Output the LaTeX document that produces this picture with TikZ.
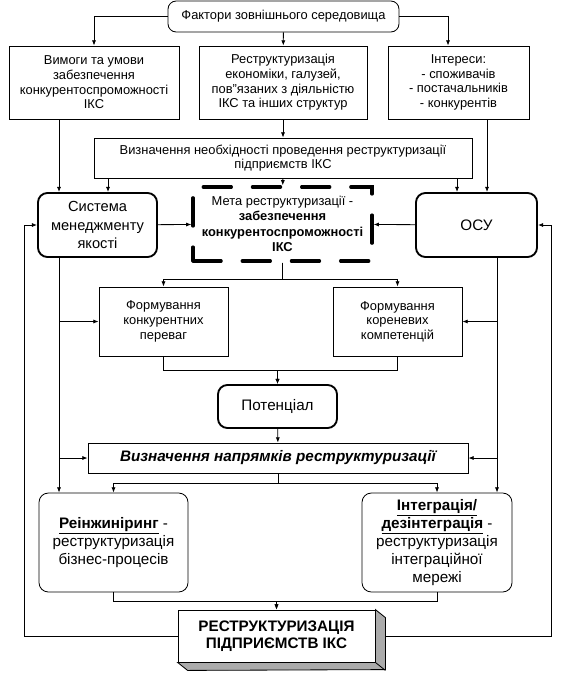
\documentclass[tikz,border=0pt]{standalone}
\usepackage{fontspec}
\setmainfont{Liberation Sans}
\usetikzlibrary{arrows.meta}
\definecolor{shGrey}{HTML}{ABABAB}

\begin{document}
\begin{tikzpicture}[x=0.03cm,y=-0.03cm,line width=0.7pt,
  font=\fontsize{11}{12.5}\selectfont,
  sz/.style 2 args={minimum width=#1*0.03cm,minimum height=#2*0.03cm},
  s/.style={draw,fill=white,align=center,inner sep=1pt},
  r/.style={s,rounded corners=8pt},
  rb/.style={s,rounded corners=8pt,line width=1.6pt,font=\fontsize{13}{15.5}\selectfont},
  goalbox/.style={s,line width=2.8pt,dash pattern=on 24pt off 18pt,line cap=round,
                  font=\fontsize{11}{13}\selectfont},
  a/.style={-{Latex[length=4.5pt,width=3.5pt]}}]
\useasboundingbox (0,0) rectangle (576,673);
\node[r,rounded corners=7pt,sz={231}{31}] (env) at (283.5,16.5) {Фактори зовнішнього середовища};
\node[s,sz={170}{73}] (req) at (94,82.5) {Вимоги та умови\\забезпечення\\конкурентоспроможності\\ІКС};
\node[s,sz={168}{73}] (econ) at (283,82.5) {Реструктуризація\\економіки, галузей,\\пов"язаних з діяльністю\\ІКС та інших структур};
\node[s,sz={141}{73}] (inter) at (458.5,82.5) {Інтереси:\\- споживачів\\- постачальників\\- конкурентів};
\node[s,sz={378}{40}] (need) at (283,158) {Визначення необхідності проведення реструктуризації\\підприємств ІКС};
\node[rb,sz={119}{64},font=\fontsize{12.5}{15.5}\selectfont] (qms) at (97.5,225) {Система\\менеджменту\\якості};
\node[goalbox,sz={179}{74}] (goal) at (282.5,224) {Мета реструктуризації -\\\textbf{забезпечення}\\\textbf{конкурентоспроможності}\\\textbf{ІКС}};
\node[rb,sz={121}{64}] (osu) at (476.5,225) {ОСУ};
\node[s,sz={129}{69}] (adv) at (163.5,321.5) {Формування\\конкурентних\\переваг};
\node[s,sz={129}{69}] (comp) at (397.5,321.5) {Формування\\кореневих\\компетенцій};
\node[rb,sz={119}{43}] (pot) at (277.5,406.5) {Потенціал};
\node[s,sz={380}{30},font=\fontsize{13}{15}\selectfont\bfseries\itshape] (dir) at (278,458) {Визначення напрямків реструктуризації};
\node[r,sz={149}{99},font=\fontsize{13}{15.5}\selectfont] (reeng) at (113.5,542.5) {\underline{\textbf{Реінжиніринг}} -\\реструктуризація\\бізнес-процесів};
\node[r,sz={150}{99},font=\fontsize{13}{15.5}\selectfont] (integ) at (437,542.5) {\underline{\textbf{Інтеграція/}}\\\underline{\textbf{дезінтеграція}} -\\реструктуризація\\інтеграційної\\мережі};
\node[s,sz={197}{52},font=\fontsize{13}{15}\selectfont\bfseries] (fin) at (276.5,636) {РЕСТРУКТУРИЗАЦІЯ\\ПІДПРИЄМСТВ ІКС};
% 3d side of the last box
\filldraw[fill=shGrey] (fin.north east) -- ++(10,8) -- ++(0,52) -- ([shift={(10,8)}]fin.south west)
  -- (fin.south west) -- (fin.south east) -- cycle;
\draw (fin.south east) -- ++(10,8);
\coordinate (finside) at ([xshift=0.3cm]fin.east);
% top part
\draw[a] (env.west) -| (req.north);
\draw[a] (env) -- (econ);
\draw[a] (env.east) -| (448,0 |- inter.north);
\draw[a] (59,0 |- req.south) -- (59,0 |- qms.north);
\draw[a] (econ) -- (need);
\draw[a] (108,0 |- need.south) -- (108,0 |- qms.north);
\draw[a] (need) -- (goal);
\draw[a] (457,0 |- need.south) -- (457,0 |- osu.north);
\draw[a] (487,0 |- inter.south) -- (487,0 |- osu.north);
\draw[a] (qms) -- (goal);
\draw[a] (osu) -- (goal);
% middle
\draw[a] (goal.south) -- ++(0,17) -| (adv.north);
\draw[a] (goal.south) -- ++(0,17) -| (comp.north);
\draw[a] (59,0 |- qms.south) -- (59,0 |- reeng.north);
\draw[a] (59,0 |- adv.west) -- (adv.west);
\draw[a] (59,0 |- dir.west) -- (dir.west);
\draw[a] (497,0 |- osu.south) -- (497,0 |- integ.north);
\draw[a] (497,0 |- comp.east) -- (comp.east);
\draw[a] (497,0 |- dir.east) -- (dir.east);
\draw[a] (adv.south) -- ++(0,14) -| (pot.north);
\draw[a] (comp.south) -- ++(0,14) -| (pot.north);
\draw[a] (pot) -- (dir);
% bottom
\draw[a] (dir.south) -- ++(0,10) -| (reeng.north);
\draw[a] (dir.south) -- ++(0,10) -| (integ.north);
\draw[a] (reeng.south) -- ++(0,9) -| (fin.north);
\draw[a] (integ.south) -- ++(0,9) -| (fin.north);
\draw[a] (fin.west) -| (24,0 |- qms.west) -- (qms.west);
\draw[a] (finside) -| (551,0 |- osu.east) -- (osu.east);
\end{tikzpicture}
\end{document}
